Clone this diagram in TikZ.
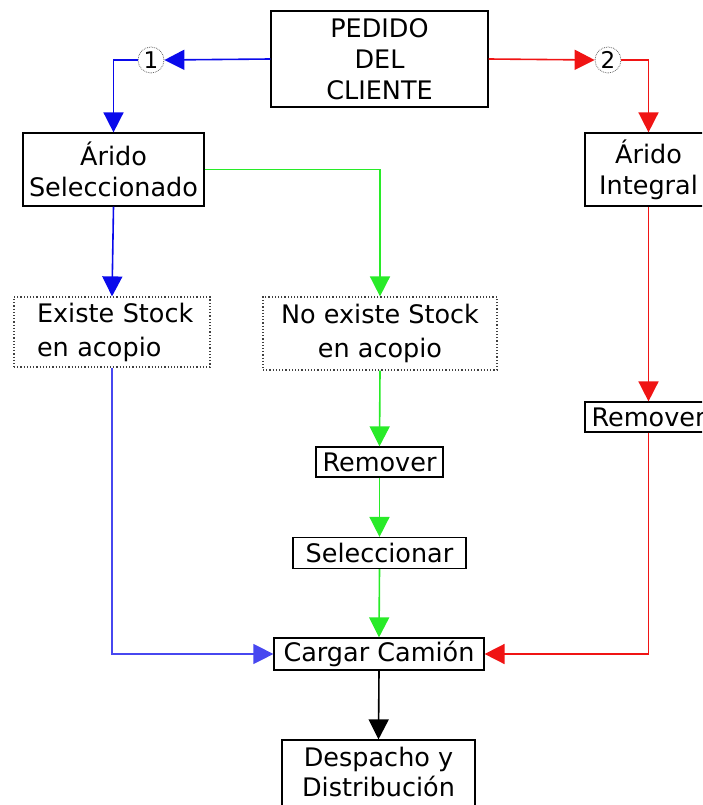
\documentclass[tikz,border=0pt]{standalone}
\usepackage{fontspec}
\setmainfont{DejaVu Sans}
\usetikzlibrary{arrows.meta}
\definecolor{cblue}{RGB}{10,10,235}
\definecolor{cred}{RGB}{240,20,20}
\definecolor{cgreen}{RGB}{40,235,40}
\begin{document}
\begin{tikzpicture}[x=1pt,y=-1pt,
  box/.style={draw=black, line width=1.2pt, fill=white, align=center, inner sep=0pt,
    font=\fontsize{25.5}{31}\selectfont},
  dotbox/.style={draw=black!75, dotted, line width=1.2pt, fill=white, inner sep=0pt,
    font=\fontsize{25.5}{34}\selectfont},
  plain/.style={align=center, inner sep=0pt, font=\fontsize{25.5}{30}\selectfont},
  num/.style={circle, draw=black!60, densely dotted, line width=0.8pt, fill=white,
    minimum size=26pt, inner sep=0pt, font=\fontsize{23}{23}\selectfont},
  link/.style={line width=1.6pt},
  tip/.style={-{Triangle[width=20pt,length=20pt]}},
]
\useasboundingbox (0,0) rectangle (702,805);
\clip (0,0) rectangle (702,805);

% nodes
\node[box, minimum width=217pt, minimum height=96pt] (ped) at (379.5,59) {PEDIDO\\DEL\\CLIENTE};
\node[num] (c1) at (151,60) {1};
\node[num] (c2) at (608,60) {2};
\node[box, minimum width=181pt, minimum height=73pt] (asel) at (113.5,169.5) {Árido\\Seleccionado};
\node[box, minimum width=127pt, minimum height=73pt] (aint) at (648.5,169.5) {Árido\\Integral};
\node[dotbox, minimum width=196pt, minimum height=70pt, text width=176pt, align=left] (exist) at (112,332)
  {\hspace*{13pt}Existe Stock\\\hspace*{13pt}en acopio};
\node[dotbox, minimum width=234pt, minimum height=73pt, align=center] (noex) at (380,333.5) {No existe Stock\\en acopio};
\node[box, minimum width=127pt, minimum height=30pt] (rem1) at (379.5,462) {Remover};
\node[box, minimum width=127pt, minimum height=30pt] (rem2) at (648.5,417) {Remover};
\node[box, minimum width=173pt, minimum height=31pt] (sel) at (379.5,553) {Seleccionar};
\node[box, minimum width=210pt, minimum height=32pt] (carg) at (379,654) {Cargar Camión};
\node[box, minimum width=193pt, minimum height=74pt] (desp) at (378.5,777) {};
\node[plain] (desptxt) at ([yshift=5pt]desp.center) {Despacho y\\Distribución};

% connectors
\draw[link, cblue, tip] (ped.west) -- (c1.east);
\draw[link, cblue, tip] (c1.west) -| (asel.north);
\draw[link, cblue, tip] (asel.south) -- (exist.north);
\draw[cblue!75, line width=1.2pt, tip] (exist.south) |- (carg.west);

\draw[link, cred, tip] (ped.east) -- (c2.west);
\draw[link, cred, tip] (c2.east) -| (aint.north);
\draw[link, cred, tip] (aint.south) -- (rem2.north);
\draw[link, cred, tip] (rem2.south) |- (carg.east);

\draw[link, cgreen, tip] (asel.east) -| (noex.north);
\draw[link, cgreen, tip] (noex.south) -- (rem1.north);
\draw[link, cgreen, tip] (rem1.south) -- (sel.north);
\draw[link, cgreen, tip] (sel.south) -- (carg.north);

\draw[link, black, tip] (carg.south) -- (desp.north);
\end{tikzpicture}
\end{document}
